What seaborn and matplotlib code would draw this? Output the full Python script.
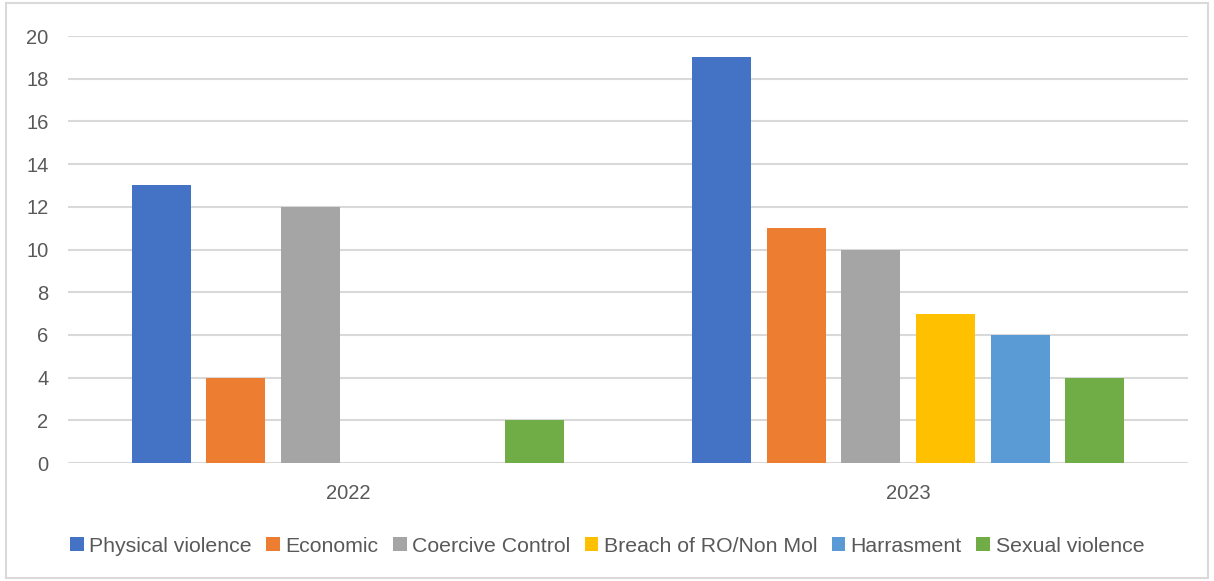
import matplotlib
matplotlib.use("Agg")
import matplotlib.pyplot as plt
from matplotlib.patches import Rectangle
import seaborn as sns
import pandas as pd

years = ["2022", "2023"]
categories = ["Physical violence", "Economic", "Coercive Control",
              "Breach of RO/Non Mol", "Harrasment", "Sexual violence"]
values_2022 = [13, 4, 12, 0, 0, 2]
values_2023 = [19, 11, 10, 7, 6, 4]
colors = ["#4472C4", "#ED7D31", "#A5A5A5", "#FFC000", "#5B9BD5", "#70AD47"]
y_ticks = [0, 2, 4, 6, 8, 10, 12, 14, 16, 18, 20]

rows = []
for year, vals in zip(years, [values_2022, values_2023]):
    for cat, v in zip(categories, vals):
        rows.append({"Year": year, "Type": cat, "Count": v})
df = pd.DataFrame(rows)

sns.set_style("white")
plt.rcParams["font.family"] = ["Liberation Sans", "DejaVu Sans"]

fig = plt.figure(figsize=(12.14, 5.81), dpi=100)
ax = fig.add_axes([0.056, 0.203, 0.9226, 0.735])

sns.barplot(data=df, x="Year", y="Count", hue="Type", hue_order=categories,
            palette=colors, width=0.8, gap=0.21, saturation=1, linewidth=0,
            ax=ax, zorder=3, legend=True)

ax.set_ylim(0, 20)
ax.set_yticks(y_ticks)
ax.set_xlim(-0.5, 1.5)
ax.grid(axis="y", color="#d9d9d9", linewidth=1.5, zorder=0)
ax.set_axisbelow(True)
for s in ax.spines.values():
    s.set_visible(False)
ax.tick_params(axis="both", length=0, labelsize=14.5, labelcolor="#595959")
ax.tick_params(axis="y", pad=14)
ax.tick_params(axis="x", pad=15)
ax.set_xlabel("")
ax.set_ylabel("")

handles, labels = ax.get_legend_handles_labels()
ax.legend_.remove()
fig.legend(handles, labels, loc="center", bbox_to_anchor=(0.5, 0.06),
           ncol=6, frameon=False, fontsize=15.3, handlelength=0.65,
           handleheight=0.65, handletextpad=0.25, columnspacing=0.68,
           labelcolor="#595959")

fig.patches.append(Rectangle((0.005, 0.005), 0.99, 0.99, transform=fig.transFigure,
                             fill=False, edgecolor="#d9d9d9", linewidth=1.5))

fig.savefig("out.png", dpi=100, facecolor="white")
